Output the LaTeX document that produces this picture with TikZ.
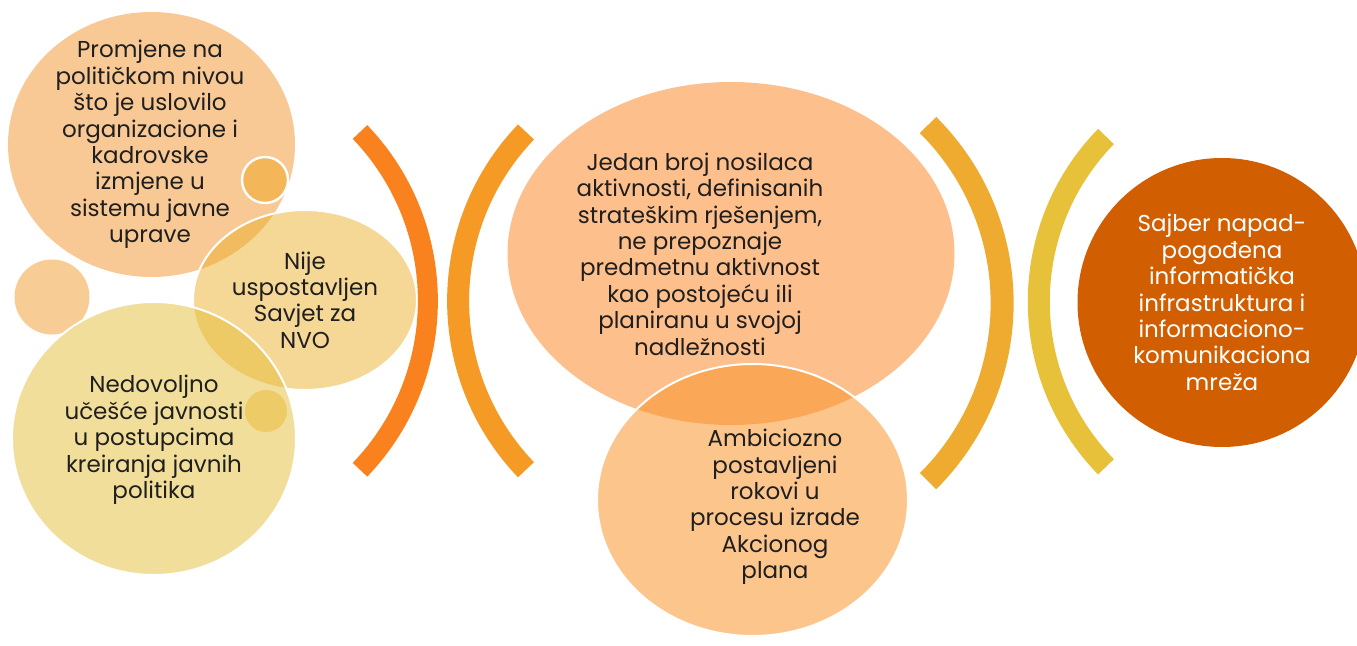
\documentclass[tikz,border=0pt]{standalone}
\usepackage{fontspec}
\setmainfont{Poppins}
\usepackage{tikz}
\usetikzlibrary{shapes.geometric}
\definecolor{peachA}{HTML}{F8C994}
\definecolor{peachB}{HTML}{F7CD95}
\definecolor{dotA}{HTML}{F3B75A}
\definecolor{dotB}{HTML}{EDCB66}
\definecolor{goldA}{HTML}{EBAF2D}
\definecolor{goldB}{HTML}{E5BD37}
\definecolor{peachC}{HTML}{FDBF8C}
\definecolor{peachD}{HTML}{F9952E}
\definecolor{rust}{HTML}{D15E00}
\definecolor{bowA}{HTML}{FA821E}
\definecolor{bowB}{HTML}{F59A24}
\definecolor{bowC}{HTML}{EEAB2F}
\definecolor{bowD}{HTML}{E8C13A}
\tikzstyle{blob}=[ellipse, inner sep=0pt, draw=white, line width=1pt]
\tikzstyle{dot}=[circle, inner sep=0pt, draw=white, line width=1.2pt]
\tikzstyle{txt}=[align=center, inner sep=0pt, text=black!88, font=\fontsize{11.5}{13.2}\selectfont]
\tikzstyle{bow}=[line cap=butt]

\begin{document}
\begin{tikzpicture}[x=0.5pt, y=-0.5pt]
	\useasboundingbox (0,0) rectangle (1357,646);
	\clip (0,0) rectangle (1357,646);
	% left group
	\node[blob, draw=none, fill=peachA, minimum width=143.5pt, minimum height=132.5pt] (p) at (151.5,144.5) {};
	\node[dot, fill=dotA, minimum size=23pt] (d1) at (265,180) {};
	\node[dot, draw=none, fill=peachB, minimum size=37.5pt] (d2) at (52,297) {};
	\node[blob, fill=goldA, fill opacity=0.5, minimum width=112pt, minimum height=90pt] (n) at (305,300) {};
	\node[blob, fill=goldB, fill opacity=0.5, minimum width=142pt, minimum height=136.5pt] (u) at (154,438.5) {};
	\node[dot, draw=none, fill=dotB, minimum size=21pt] (d3) at (266,411) {};
	\node[txt] (pt) at (150,144.5) {Promjene na\\političkom nivou\\što je uslovilo\\organizacione i\\kadrovske\\izmjene u\\sistemu javne\\uprave};
	\node[txt] (nt) at (305,300) {Nije\\uspostavljen\\Savjet za\\NVO};
	\node[txt] (ut) at (154,440) {Nedovoljno\\učešće javnosti\\u postupcima\\kreiranja javnih\\politika};
	% bows
	\draw[bow, draw=bowA, line width=10pt] (360,132) arc[start angle=-43.8, end angle=43.8, radius=244];
	\draw[bow, draw=bowB, line width=11pt] (526,132) arc[start angle=223.8, end angle=136.2, radius=244];
	% middle group
	\node[blob, draw=none, fill=peachC, minimum width=223.5pt, minimum height=171.5pt] (j) at (731,253.5) {};
	\node[blob, fill=peachD, fill opacity=0.55, minimum width=155.5pt, minimum height=136pt] (a) at (752.5,500) {};
	\node[txt] (jt) at (700,254) {Jedan broj nosilaca\\aktivnosti, definisanih\\strateškim rješenjem,\\ne prepoznaje\\predmetnu aktivnost\\kao postojeću ili\\planiranu u svojoj\\nadležnosti};
	\node[txt] (at) at (775,507) {Ambiciozno\\postavljeni\\rokovi u\\procesu izrade\\Akcionog\\plana};
	% bows
	\draw[bow, draw=bowC, line width=11.5pt] (928,125) arc[start angle=-45.2, end angle=45.2, radius=251];
	\draw[bow, draw=bowD, line width=11pt] (1106,136.5) arc[start angle=224.3, end angle=135.7, radius=236.5];
	% right
	\node[circle, inner sep=0pt, fill=rust, minimum size=144.5pt] (s) at (1222,302.5) {};
	\node[txt, text=white] (st) at (1222,302.5) {Sajber napad-\\pogođena\\informatička\\infrastruktura i\\informaciono-\\komunikaciona\\mreža};
\end{tikzpicture}
\end{document}
